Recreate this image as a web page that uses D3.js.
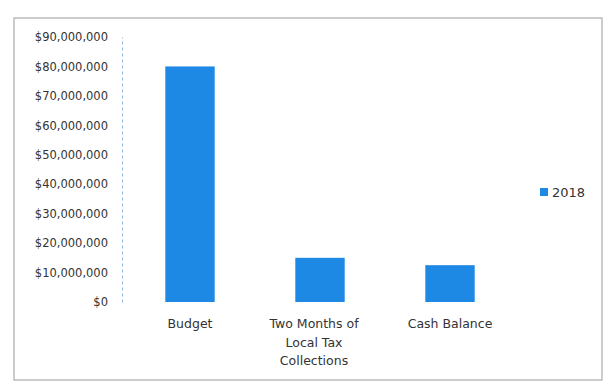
<!DOCTYPE html>
<html>
<head>
<meta charset="utf-8">
<script src="https://cdn.jsdelivr.net/npm/d3@7"></script>
<style>
  html, body { margin: 0; padding: 0; background: #ffffff; }
  svg { display: block; }
  text { font-family: "DejaVu Sans", "Liberation Sans", sans-serif; fill: #333; }
</style>
</head>
<body>
<svg id="chart" width="604" height="385"></svg>
<script>
// Chart data
const categories = ["Budget", "Two Months of Local Tax Collections", "Cash Balance"];
const categoryLines = [["Budget"], ["Two Months of", "Local Tax", "Collections"], ["Cash Balance"]];
const seriesName = "2018";
const values2018 = [80000000, 15000000, 12500000];
const yTicks = [0, 10000000, 20000000, 30000000, 40000000, 50000000, 60000000, 70000000, 80000000, 90000000];

const margin = { top: 37, bottom: 302, left: 125, right: 515 };
const barColor = "#1e88e5";

const svg = d3.select("#chart");

// Outer chart frame
svg.append("rect")
  .attr("x", 14).attr("y", 18)
  .attr("width", 588).attr("height", 362)
  .attr("fill", "none")
  .attr("stroke", "#9a9a9a")
  .attr("stroke-width", 1);

const x = d3.scaleBand()
  .domain(categories)
  .range([margin.left, margin.right])
  .paddingInner(0.62)
  .paddingOuter(0.31);

const y = d3.scaleLinear()
  .domain([0, 90000000])
  .range([margin.bottom, margin.top]);

const fmt = v => "$" + d3.format(",")(v);

// Value axis
const yAxis = d3.axisLeft(y)
  .tickValues(yTicks)
  .tickFormat(fmt)
  .tickSize(0)
  .tickPadding(14);

const yg = svg.append("g")
  .attr("transform", `translate(${margin.left - 3},0)`)
  .call(yAxis);
yg.select(".domain")
  .attr("stroke", "#8fb4e0")
  .attr("stroke-dasharray", "3,3");
yg.selectAll("text")
  .attr("font-family", "'DejaVu Sans', sans-serif")
  .attr("font-size", 11.5)
  .attr("fill", "#505050");

// Bars
svg.append("g")
  .selectAll("rect")
  .data(values2018)
  .join("rect")
  .attr("x", (d, i) => x(categories[i]))
  .attr("y", d => y(d))
  .attr("width", x.bandwidth())
  .attr("height", d => y(0) - y(d))
  .attr("fill", barColor);

// Category labels
const labels = svg.append("g")
  .selectAll("text")
  .data(categoryLines)
  .join("text")
  .attr("text-anchor", "middle")
  .attr("font-size", 12.5)
  .attr("fill", "#2a2a2a")
  .attr("transform", (d, i) => `translate(${x(categories[i]) + x.bandwidth() / 2 - (d.length > 1 ? 6 : 0)},328)`);
labels.selectAll("tspan")
  .data(d => d)
  .join("tspan")
  .attr("x", 0)
  .attr("dy", (d, i) => i === 0 ? 0 : 18.5)
  .text(d => d);

// Legend
const lg = svg.append("g").attr("transform", "translate(540,192)");
lg.append("rect")
  .attr("x", 0).attr("y", -4)
  .attr("width", 8).attr("height", 8)
  .attr("fill", barColor);
lg.append("text")
  .attr("x", 12).attr("y", 5)
  .attr("font-size", 13)
  .attr("fill", "#333")
  .text(seriesName);
</script>
</body>
</html>
